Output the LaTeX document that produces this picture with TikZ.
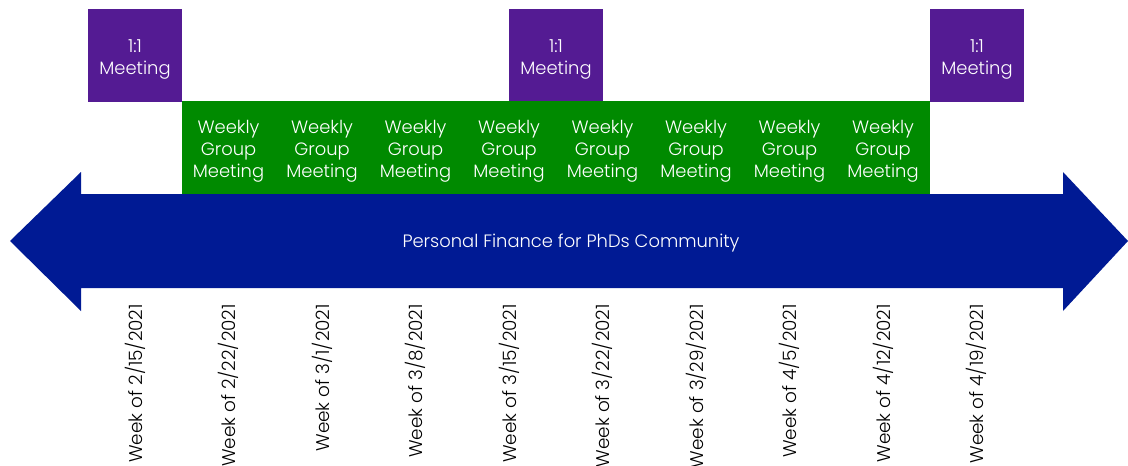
\documentclass[tikz,border=0pt]{standalone}
\usepackage{fontspec}
\setmainfont{Poppins}[UprightFont=* Light]
\begin{document}
\begin{tikzpicture}[x=1pt,y=-1pt,
  every node/.style={font=\fontsize{17.9}{22}\selectfont, text=white, align=center, inner sep=0pt},
  oneone/.style={fill=purpleM, minimum width=94pt, minimum height=93pt},
  weekly/.style={fill=greenM, minimum width=93.9pt, minimum height=93pt},
  datelbl/.style={rotate=90, anchor=east, text=black, font=\fontsize{18.4}{22}\selectfont}]
\definecolor{purpleM}{HTML}{541B93}
\definecolor{greenM}{HTML}{008A00}
\definecolor{blueM}{HTML}{001A94}
\useasboundingbox (0,0) rectangle (1128,466);

% timeline arrow
\fill[blueM] (10,241) -- (81,172) -- (81,194) -- (1063,194) -- (1063,172)
  -- (1128,241) -- (1063,311) -- (1063,288) -- (81,288) -- (81,311) -- cycle;
\node (community) at (571,243) {Personal Finance for PhDs Community};

% one-to-one meetings
\foreach \i/\x in {1/135,2/556,3/977} {
  \node[oneone] (m\i) at (\x,55.5) {};
  \node at ([yshift=-3.5pt]m\i.center) {1:1\\Meeting};
}

% weekly group meetings
\foreach \i in {1,...,8} {
  \node[weekly] (g\i) at ({135+93.5*\i},147.5) {};
  \node at ([yshift=-3.5pt]g\i.center) {Weekly\\Group\\Meeting};
}

% week labels
\foreach \d [count=\i from 0] in {2/15,2/22,3/1,3/8,3/15,3/22,3/29,4/5,4/12,4/19} {
  \node[datelbl] (w\i) at ({135+93.5*\i},304) {Week of \d/2021};
}
\end{tikzpicture}
\end{document}
